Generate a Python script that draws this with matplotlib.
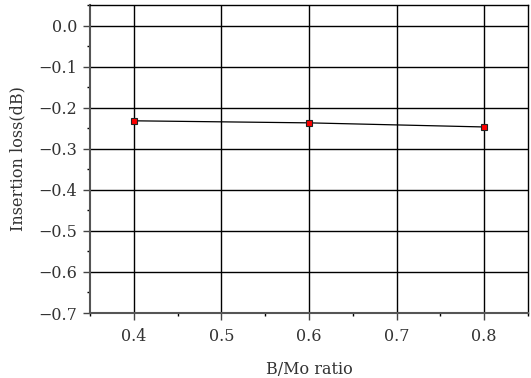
import matplotlib
matplotlib.use("Agg")
import matplotlib.pyplot as plt
from matplotlib.ticker import MultipleLocator

ratio = [0.4, 0.6, 0.8]
loss = [-0.232, -0.237, -0.247]
xticks = [0.4, 0.5, 0.6, 0.7, 0.8]
yticks = [0.0, -0.1, -0.2, -0.3, -0.4, -0.5, -0.6, -0.7]

plt.rcParams['font.family'] = ['DejaVu Serif']
plt.rcParams['axes.unicode_minus'] = True

fig = plt.figure(figsize=(5.31, 3.78), dpi=100)
ax = fig.add_axes([90/531, 1-313/378, (528-90)/531, (313-5)/378])

ax.plot(ratio, loss, color='black', linewidth=0.9, marker='s', markersize=5,
        markerfacecolor='#ff0000', markeredgecolor='#222222', markeredgewidth=0.8, zorder=3)

ax.set_xlim(0.35, 0.85)
ax.set_ylim(-0.7, 0.05)
ax.set_xticks(xticks)
ax.set_yticks(yticks)
ax.set_xticklabels([f"{v:.1f}" for v in xticks])
ax.set_yticklabels([f"{v:.1f}".replace('-', '\u2212') if v != 0 else "0.0" for v in yticks])
ax.xaxis.set_minor_locator(MultipleLocator(0.05))
ax.yaxis.set_minor_locator(MultipleLocator(0.05))
ax.grid(True, which='major', color='black', linewidth=1.0)
ax.set_axisbelow(True)
ax.tick_params(which='major', direction='out', length=5, width=1, labelsize=11.5, colors='#444444', labelcolor='#333333', pad=4)
ax.tick_params(axis='x', which='major', pad=6)
ax.tick_params(which='minor', direction='out', length=2.5, width=1, colors='black')
for s in ax.spines.values():
    s.set_linewidth(1.0)
    s.set_color('black')
ax.spines['left'].set_color('#555555')
ax.spines['left'].set_linewidth(1.5)
ax.spines['bottom'].set_color('#555555')
ax.spines['bottom'].set_linewidth(1.5)

ax.set_xlabel('B/Mo ratio', fontsize=11.5, color='#333333', labelpad=11)
ax.set_ylabel('Insertion loss(dB)', fontsize=11.5, color='#333333', labelpad=9)

fig.savefig('out.png', dpi=100)
